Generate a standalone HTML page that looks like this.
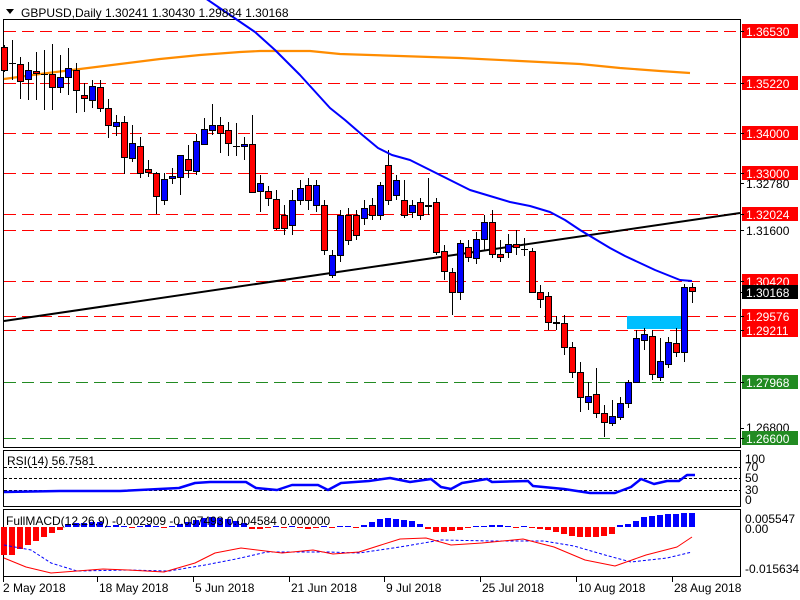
<!DOCTYPE html>
<html><head><meta charset="utf-8"><style>
html,body{margin:0;padding:0;background:#fff;}
svg{display:block;font-family:"Liberation Sans",sans-serif;}
</style></head><body>
<svg id="s" width="800" height="600" xmlns="http://www.w3.org/2000/svg">
<rect width="800" height="600" fill="#fff"/>
<g id="g"></g>
</svg>
<script>
var g=document.getElementById('g');var h='';
function L(x1,y1,x2,y2,c,w,d){h+='<line x1="'+x1+'" y1="'+y1+'" x2="'+x2+'" y2="'+y2+'" stroke="'+c+'" stroke-width="'+(w||1)+'"'+(d?' stroke-dasharray="'+d+'"':'')+'/>';}
function R(x,y,w,hh,c,s){h+='<rect x="'+x+'" y="'+y+'" width="'+w+'" height="'+hh+'" fill="'+c+'"'+(s?' stroke="'+s+'" stroke-width="1"':'')+'/>';}
function T(x,y,t,c,sz,a){h+='<text x="'+x+'" y="'+y+'" fill="'+(c||'#000')+'" font-size="'+(sz||12)+'"'+(a?' text-anchor="'+a+'"':'')+'>'+t+'</text>';}
function P(pts,c,w,d){h+='<polyline fill="none" stroke-linejoin="round" points="'+pts.map(function(p){return p.join(',')}).join(' ')+'" stroke="'+c+'" stroke-width="'+w+'"'+(d?' stroke-dasharray="'+d+'"':'')+'/>';}
R(3.5,19.5,737,428,'none','#000');
R(3.5,450.5,737,56,'none','#000');
R(3.5,509.5,737,67,'none','#000');
[31,83,133,173,214,230,281,316,330].forEach(function(y){L(4,y+.5,740,y+.5,'#f00',1,'12,6');});
[382,438].forEach(function(y){L(4,y+.5,740,y+.5,'#228b22',1,'12,6');});
R(627,316,57,13,'#00bfff');
P([[4,79],[40,74],[80,69],[120,64],[160,59],[200,55],[240,52],[260,51],[310,51],[340,54],[400,56],[460,58],[520,61],[580,64],[620,68],[660,71],[690,73]],'#ff8c00',2.2);
L(4,321,740,213,'#000',2);
var C=[
[47,70,45,72,'r'],[63,63,40,80,'d'],[64,81,57,99,'r'],[79,70,62,100,'b'],[71,73,52,100,'r'],[74,74,50,110,'d'],[74,87,44,110,'r'],[87,77,55,93,'b'],[77,68,48,95,'b'],[70,90,63,113,'r'],
[95,98,83,112,'r'],[100,86,80,108,'b'],[87,108,80,112,'r'],[108,125,99,138,'r'],[126,122,115,136,'b'],[122,157,116,174,'r'],[158,143,125,162,'b'],[146,173,137,178,'r'],[169,172,160,177,'r'],[173,196,172,214,'r'],
[200,179,173,205,'b'],[178,176,168,184,'b'],[177,155,155,195,'b'],[159,170,145,178,'r'],[171,141,134,175,'b'],[144,129,118,144,'b'],[130,125,104,135,'b'],[125,133,117,153,'r'],[130,143,122,156,'r'],[146,146,123,156,'d'],
[146,144,137,160,'b'],[144,192,115,192,'r'],[191,183,175,212,'b'],[191,198,186,206,'r'],[199,228,190,230,'r'],[215,228,205,235,'r'],[225,200,190,235,'b'],[200,188,180,205,'b'],[185,200,178,210,'r'],[205,185,180,212,'b'],
[205,250,200,255,'r'],[275,255,250,278,'b'],[255,215,210,262,'b'],[215,240,208,245,'r'],[215,235,210,240,'r'],[218,208,200,225,'b'],[205,215,198,220,'r'],[215,185,182,220,'b'],[165,200,150,205,'r'],[195,180,175,200,'b'],
[200,215,180,218,'r'],[212,205,200,218,'b'],[202,215,198,220,'r'],[206,205,178,215,'b'],[202,252,198,255,'r'],[251,271,245,280,'r'],[272,292,268,315,'r'],[292,243,240,300,'b'],[247,257,240,262,'r'],[258,239,232,264,'b'],
[239,222,215,250,'b'],[222,254,210,258,'r'],[254,257,240,262,'r'],[252,244,234,258,'b'],[244,247,230,255,'r'],[249,249,238,256,'d'],[251,292,248,292,'r'],[292,299,285,308,'r'],[296,322,292,330,'r'],[322,323,316,330,'r'],
[323,347,315,355,'r'],[347,372,342,378,'r'],[372,397,362,412,'r'],[402,396,382,410,'b'],[394,413,368,418,'r'],[413,422,405,437,'r'],[423,416,400,426,'b'],[417,403,397,420,'b'],[403,382,380,408,'b'],[382,338,330,383,'b'],
[340,334,328,350,'b'],[336,374,330,380,'r'],[377,361,338,381,'b'],[364,342,337,368,'b'],[343,352,328,357,'r'],[352,287,284,362,'b'],[287,291,283,303,'r']];
C.forEach(function(c,i){var x=4+8*i;L(x+.5,c[2],x+.5,c[3],'#000',1);var t=Math.min(c[0],c[1]),b=Math.max(c[0],c[1]);
 if(c[4]=='d'){L(x-3,t+.5,x+4,t+.5,'#000',1);}else{R(x-2.5,t+.5,6,Math.max(b-t,1),c[4]=='r'?'#f00':'#00f','#000');}});
P([[205,-2],[230,15],[255,32],[275,50],[300,75],[330,108],[345,120],[360,133],[378,148],[392,155],[410,160],[430,170],[450,180],[470,190],[490,196],[510,202],[530,206],[550,212],[565,220],[580,230],[595,239],[610,248],[625,256],[640,263],[655,270],[670,276],[680,280],[692,281]],'#0000ff',2);
function BL(y,t,bg,fc){R(742,y-7,56,14,bg);T(746,y+5,t,fc||'#fff',12);}
BL(31,'1.36530','#f00');BL(83,'1.35220','#f00');BL(133,'1.34000','#f00');BL(173,'1.33000','#f00');
T(746,188,'1.32780');T(746,235,'1.31600');T(746,432,'1.26800');
BL(214,'1.32024','#f00');BL(281,'1.30420','#f00');BL(292,'1.30168','#000');BL(316,'1.29576','#f00');BL(330,'1.29211','#f00');
BL(382,'1.27968','#228b22');BL(438,'1.26600','#228b22');
[31,83,133,173,183,214,230,281,292,316,330,382,428,438].forEach(function(y){L(740,y+.5,744,y+.5,'#000',1);});
h+='<polygon points="6,9 14,9 10,14" fill="#000"/>';
T(21,17,'GBPUSD,Daily  1.30241 1.30430 1.29884 1.30168','#000',12);
[467,478,490].forEach(function(y){L(4,y+.5,740,y+.5,'#000',1,'3,2');});
P([[4,492],[60,491],[120,491],[179,488],[195,483],[210,482],[246,482],[256,488],[277,490],[292,485],[318,485],[328,490],[341,483],[369,481],[390,478],[410,482],[431,479],[441,487],[451,489],[462,483],[487,479],[492,482],[528,481],[533,486],[564,489],[590,493],[615,493],[631,487],[641,479],[654,484],[667,481],[679,481],[687,475],[695,475]],'#0000ff',2.5);
T(7,465,'RSI(14) 56.7581','#000',12);
T(745,463,'100');T(745,471,'70');T(745,482,'50');T(745,494,'30');T(745,504,'0');
var H=[-28,-28,-22,-18,-14,-10,-6,-3,3,4,4,5,5,1,2,1,-1,1,2,1,-1,1,3,5,7,9,10,9,8,6,4,-2,-2,-1,1,-1,1,-1,-2,-1,1,-1,1,1,-1,2,5,8,9,8,7,6,3,-2,-5,-5,-4,-3,-1,1,1,2,2,1,-1,1,-1,-2,-3,-5,-7,-9,-10,-10,-10,-9,-7,2,3,6,10,11,12,13,13,14,14];
H.forEach(function(v,i){var x=4+8*i;var y0=527;if(v>=0)R(x-3,y0-v,6,v,'#00f');else R(x-3,y0,6,-v,'#f00');});
P([[4,545],[31,550],[51,563],[77,571],[128,570],[169,571],[205,565],[236,559],[267,552],[328,552],[359,553],[400,547],[441,540],[492,541],[544,541],[574,546],[605,555],[631,562],[667,558],[692,552]],'#0000ff',1,'3,2');
P([[4,558],[26,567],[51,573],[77,571],[103,569],[128,570],[164,572],[195,563],[215,553],[241,548],[282,553],[313,550],[333,554],[359,552],[400,539],[426,538],[451,545],[482,543],[523,539],[554,547],[585,560],[615,566],[646,555],[677,547],[692,537]],'#f00',1);
T(6,525,'FullMACD(12,26,9) -0.002909 -0.007493 0.004584 0.000000','#000',12);
T(745,523,'0.005547');T(745,533,'0.00');T(745,573,'-0.015634');
var X=[[3,'2 May 2018'],[97,'18 May 2018'],[193,'5 Jun 2018'],[289,'21 Jun 2018'],[384,'9 Jul 2018'],[480,'25 Jul 2018'],[576,'10 Aug 2018'],[672,'28 Aug 2018']];
X.forEach(function(a){L(a[0]+.5,577,a[0]+.5,582,'#000',1);T(a[0]+(a[0]<10?0:2),592,a[1]);});
g.innerHTML=h;
</script>
</body></html>
